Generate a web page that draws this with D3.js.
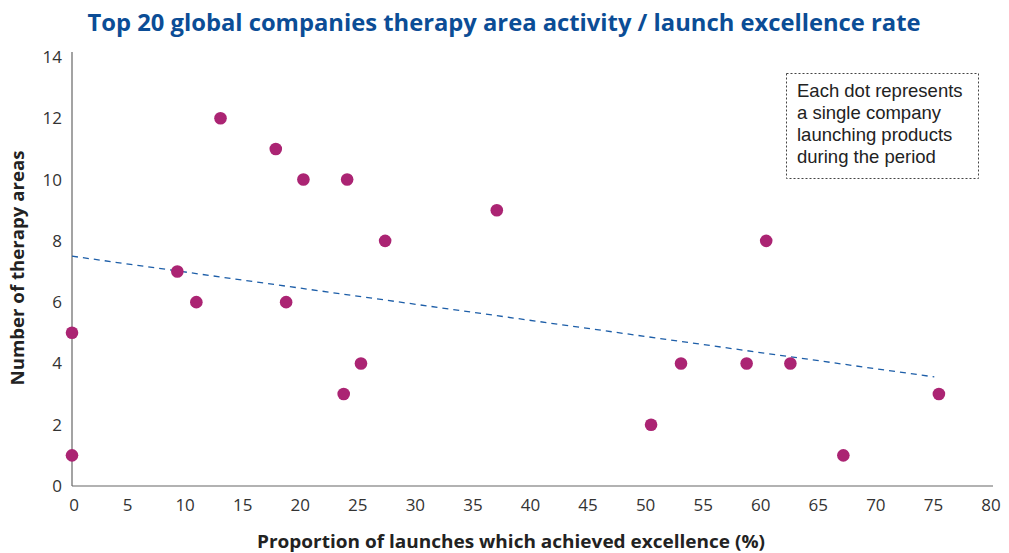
<!DOCTYPE html>
<html>
<head>
<meta charset="utf-8">
<script src="https://cdnjs.cloudflare.com/ajax/libs/d3/7.8.5/d3.min.js"></script>
<style>
  body { margin: 0; background: #fff; }
  svg text { font-family: "Open Sans", "Liberation Sans", sans-serif; }
</style>
</head>
<body>
<script>
//data
var excellence = [0, 0, 9.15, 10.8, 12.9, 17.7, 18.6, 20.1, 23.9, 23.6, 25.1, 27.2, 36.9, 50.3, 52.9, 58.6, 60.3, 62.4, 67.0, 75.3];
var therapyAreas = [5, 1, 7, 6, 12, 11, 6, 10, 10, 3, 4, 8, 9, 2, 4, 4, 8, 4, 1, 3];
var trendX = [0, 74.9];
var trendY = [7.5, 3.56];
var xTicks = [0, 5, 10, 15, 20, 25, 30, 35, 40, 45, 50, 55, 60, 65, 70, 75, 80];
var yTicks = [0, 2, 4, 6, 8, 10, 12, 14];
var noteLines = ["Each dot represents", "a single company", "launching products", "during the period"];

var width = 1009,
    height = 553;

var svg = d3.select("body")
    .append("svg")
    .attr("width", width)
    .attr("height", height);

//scales
var x = d3.scaleLinear().domain([0, 80]).range([72, 993]);
var y = d3.scaleLinear().domain([0, 14]).range([486, 57]);

//title
svg.append("text")
    .attr("x", 504)
    .attr("y", 31)
    .attr("text-anchor", "middle")
    .attr("textLength", 833)
    .attr("lengthAdjust", "spacingAndGlyphs")
    .style("font-size", "23px")
    .style("font-weight", "bold")
    .style("fill", "#0b4d96")
    .text("Top 20 global companies therapy area activity / launch excellence rate");

//axis lines
svg.append("line")
    .attr("x1", x(0)).attr("x2", x(0))
    .attr("y1", 52).attr("y2", y(0))
    .style("stroke", "#666").style("stroke-width", 1.2);
svg.append("line")
    .attr("x1", x(0)).attr("x2", x(80))
    .attr("y1", y(0)).attr("y2", y(0))
    .style("stroke", "#666").style("stroke-width", 1.2);

//tick labels
svg.selectAll(".xlab")
    .data(xTicks)
    .enter()
    .append("text")
    .attr("class", "xlab")
    .attr("x", function(d){ return d === 0 ? x(d) + 2 : x(d) - 2; })
    .attr("y", 511)
    .attr("text-anchor", "middle")
    .style("font-size", "17px")
    .style("fill", "#333")
    .text(function(d){ return d; });

svg.selectAll(".ylab")
    .data(yTicks)
    .enter()
    .append("text")
    .attr("class", "ylab")
    .attr("x", 62)
    .attr("y", function(d){ return y(d) + 6; })
    .attr("text-anchor", "end")
    .style("font-size", "17px")
    .style("fill", "#333")
    .text(function(d){ return d; });

//axis titles
svg.append("text")
    .attr("transform", "translate(24,268) rotate(-90)")
    .attr("text-anchor", "middle")
    .attr("textLength", 235)
    .attr("lengthAdjust", "spacingAndGlyphs")
    .style("font-size", "17px")
    .style("font-weight", "bold")
    .style("fill", "#222")
    .text("Number of therapy areas");

svg.append("text")
    .attr("x", 511)
    .attr("y", 548)
    .attr("text-anchor", "middle")
    .attr("textLength", 508)
    .attr("lengthAdjust", "spacingAndGlyphs")
    .style("font-size", "17px")
    .style("font-weight", "bold")
    .style("fill", "#222")
    .text("Proportion of launches which achieved excellence (%)");

//trend line
svg.append("line")
    .attr("x1", x(trendX[0])).attr("y1", y(trendY[0]))
    .attr("x2", x(trendX[1])).attr("y2", y(trendY[1]))
    .style("stroke", "#1d5ea8")
    .style("stroke-width", 1.3)
    .style("stroke-dasharray", "6,5");

//dots
var points = excellence.map(function(d, i){ return [d, therapyAreas[i]]; });
svg.selectAll(".dot")
    .data(points)
    .enter()
    .append("circle")
    .attr("class", "dot")
    .attr("cx", function(d){ return x(d[0]); })
    .attr("cy", function(d){ return y(d[1]); })
    .attr("r", 6.3)
    .style("fill", "#ab2473");

//note box
svg.append("rect")
    .attr("x", 786.5).attr("y", 73.5)
    .attr("width", 192).attr("height", 105)
    .style("fill", "none")
    .style("stroke", "#444")
    .style("stroke-width", 1)
    .style("stroke-dasharray", "2,2");

svg.selectAll(".note")
    .data(noteLines)
    .enter()
    .append("text")
    .attr("class", "note")
    .attr("x", 797)
    .attr("y", function(d, i){ return 97 + i * 22; })
    .style("font-family", "'Liberation Sans', Arial, sans-serif")
    .style("font-size", "18.5px")
    .style("fill", "#222")
    .text(function(d){ return d; });
</script>
</body>
</html>
